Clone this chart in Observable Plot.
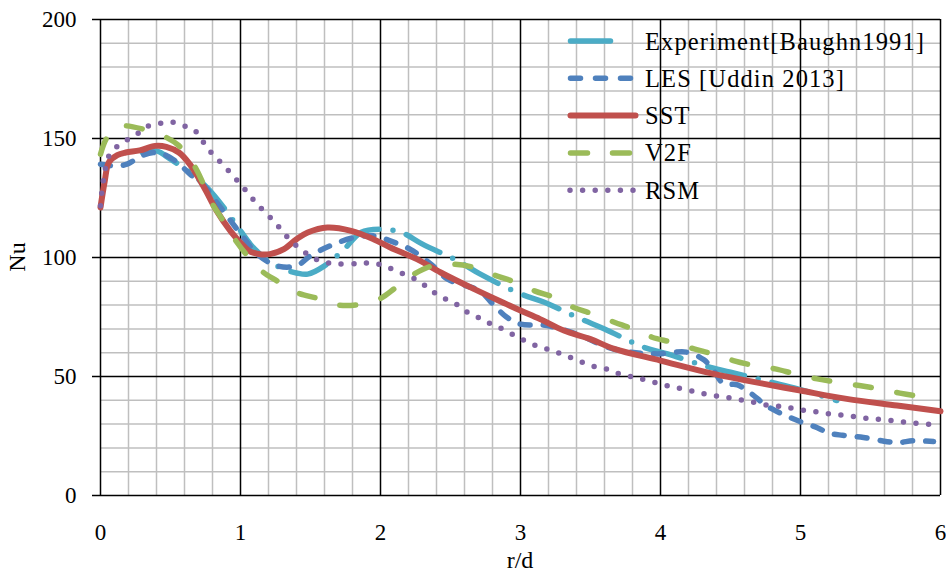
<!DOCTYPE html>
<html><head><meta charset="utf-8">
<script src="https://cdn.jsdelivr.net/npm/d3@7"></script>
<script src="https://cdn.jsdelivr.net/npm/@observablehq/plot@0.6"></script>
<style>body{margin:0;background:#fff}</style>
</head><body><div id="chart"></div>
<script>
// ---- data ----
const seriesNames = ["Experiment[Baughn1991]", "LES [Uddin 2013]", "SST", "V2F", "RSM"];
const seriesColors = ["#4BACC6", "#4F81BD", "#C0504D", "#9BBB59", "#8064A2"];

const expR  = [0.30,0.40,0.50,0.64,0.76,0.88,1.00,1.07,1.12,1.20,1.31,1.40,1.48,1.60,1.73,1.86,2.00,2.15,2.30,2.55,2.71,3.00,3.17,3.43,3.60,3.88,4.05,4.31,4.50,4.79,4.98,5.26];
const expNu = [144.0,144.8,141.3,135.7,129.4,121.0,111.2,105.6,102.5,98.5,95.1,93.5,93.0,96.5,102.8,110.5,111.9,110.5,105.6,98.6,93.1,84.7,81.2,74.2,70.0,62.3,59.5,54.6,51.8,47.6,44.8,39.9];

const lesR  = [0,0.10,0.19,0.29,0.38,0.45,0.55,0.64,0.74,0.83,0.93,1.02,1.12,1.26,1.40,1.50,1.64,1.81,1.95,2.07,2.21,2.36,2.48,2.62,2.71,2.81,2.90,3.00,3.19,3.43,3.62,3.79,3.98,4.19,4.31,4.38,4.45,4.55,4.65,4.75,4.86,5.00,5.12,5.20,5.30,5.45,5.62,5.71,5.80,5.95];
const lesNu = [139.2,138.5,139.2,142.7,144.1,143.4,139.9,135.0,130.1,123.1,115.4,108.4,101.4,96.5,96.5,100.7,104.9,108.4,109.1,107.0,103.5,97.2,90.9,88.0,86.0,80.0,75.0,72.0,71.4,67.2,62.3,60.2,59.5,60.2,57.0,52.5,47.0,46.5,42.7,38.0,34.5,31.0,28.5,26.3,25.3,24.4,22.6,22.3,23.0,22.7];

const sstR  = [0,0.03,0.06,0.12,0.18,0.28,0.39,0.47,0.56,0.64,0.74,0.83,0.93,1.02,1.07,1.15,1.21,1.31,1.40,1.48,1.62,1.79,1.95,2.07,2.26,2.43,2.67,2.90,3.00,3.14,3.31,3.50,3.67,4.00,4.38,4.74,5.00,5.33,5.69,6.00];
const sstNu = [121.0,132.0,140.0,143.0,144.1,145.0,146.9,146.5,144.1,139.0,129.4,119.6,111.0,105.0,102.5,101.3,101.4,103.5,107.7,110.5,112.6,111.2,107.7,104.2,99.3,93.7,86.7,80.4,77.7,74.1,69.3,65.7,61.6,56.7,51.1,46.9,44.1,40.6,37.8,35.4];

const v2fR  = [0,0.04,0.10,0.15,0.30,0.45,0.56,0.67,0.73,0.80,0.87,0.95,1.04,1.15,1.26,1.40,1.55,1.69,1.83,1.99,2.11,2.24,2.37,2.52,2.67,2.81,2.95,3.10,3.24,3.38,3.50,3.67,3.80,3.94,4.08,4.24,4.37,4.52,4.67,4.82,4.96,5.12,5.26,5.42,5.56,5.71,5.86,5.96];
const v2fNu = [143.4,149.7,154.0,155.3,154.0,151.0,147.0,138.5,131.5,122.4,116.0,108.4,101.4,94.4,90.2,85.3,82.8,80.1,80.1,82.5,87.4,93.0,96.5,97.2,95.8,92.7,89.9,86.0,83.2,79.0,76.6,72.8,70.0,66.5,64.4,61.6,59.5,56.7,54.6,53.2,51.1,49.0,47.6,46.2,44.8,43.0,41.6,41.0];

const rsmR  = [0,0.02,0.06,0.11,0.18,0.26,0.33,0.42,0.50,0.58,0.67,0.77,0.89,1.01,1.12,1.24,1.36,1.50,1.57,1.67,1.83,1.93,2.02,2.10,2.18,2.26,2.33,2.40,2.48,2.56,2.63,2.71,2.79,2.87,2.95,3.02,3.11,3.19,3.27,3.36,3.44,3.52,3.61,3.69,3.78,3.86,3.95,4.04,4.12,4.21,4.29,4.38,4.47,4.56,4.64,4.73,4.82,4.90,4.99,5.08,5.17,5.26,5.35,5.44,5.52,5.61,5.70,5.78,5.87,5.96];
const rsmNu = [121.7,132.2,142.7,146.2,149.0,151.8,154.9,156.3,157.0,155.6,153.5,145.5,138.0,130.1,122.4,115.1,107.0,100.5,98.6,97.4,97.4,97.7,96.6,94.7,92.7,90.6,87.7,84.6,82.1,79.7,76.6,74.5,72.0,70.0,67.5,65.4,63.0,61.5,59.9,57.9,56.0,54.3,53.2,51.4,50.1,49.0,47.6,46.2,45.2,44.1,43.0,42.0,41.3,40.3,39.5,38.2,37.7,37.1,36.0,35.4,34.6,34.0,33.5,32.6,32.2,31.8,31.1,30.7,30.1,29.8];

const xTicks = [0,1,2,3,4,5,6];
const yTicks = [0,50,100,150,200];
const xMinorTicks = [0.2,0.4,0.6,0.8,1.2,1.4,1.6,1.8,2.2,2.4,2.6,2.8,3.2,3.4,3.6,3.8,4.2,4.4,4.6,4.8,5.2,5.4,5.6,5.8];
const yMinorTicks = [10,20,30,40,60,70,80,90,110,120,130,140,160,170,180,190];
const xLabel = "r/d";
const yLabel = "Nu";

// ---- build ----
const seriesR = [expR, lesR, sstR, v2fR, rsmR];
const seriesNu = [expNu, lesNu, sstNu, v2fNu, rsmNu];
const dashes = ["38 14 0 14", "10 13", null, "16 26", "0 12.6"];
const widths = [5.5, 5.5, 6, 5.5, 5.5];

const lineMarks = seriesNames.map((name, i) => {
  const rows = seriesR[i].map((r, j) => ({series: name, r, nu: seriesNu[i][j]}));
  const opts = {x: "r", y: "nu", stroke: seriesColors[i], strokeWidth: widths[i],
    strokeLinecap: "round", strokeLinejoin: "round", curve: "catmull-rom"};
  if (dashes[i]) opts.strokeDasharray = dashes[i];
  return Plot.line(rows, opts);
});

const chart = Plot.plot({
  width: 946, height: 574,
  marginLeft: 100, marginRight: 6, marginTop: 19, marginBottom: 79,
  x: {domain: [0, 6]},
  y: {domain: [0, 200]},
  style: {fontFamily: "'Liberation Serif', serif", fontSize: "23px", background: "white", color: "black", overflow: "visible"},
  marks: [
    Plot.ruleX(xMinorTicks, {stroke: "#bfbfbf", strokeWidth: 1.5}),
    Plot.ruleY(yMinorTicks, {stroke: "#bfbfbf", strokeWidth: 1.5}),
    Plot.ruleX(xTicks, {stroke: "#000", strokeWidth: 1.5}),
    Plot.ruleY(yTicks, {stroke: "#000", strokeWidth: 1.5}),
    Plot.axisX({ticks: xTicks, tickSize: 0, tickPadding: 28, label: null, tickFormat: d => String(d)}),
    Plot.axisY({ticks: yTicks, tickSize: 8, tickPadding: 16, label: null, strokeWidth: 1.5, tickFormat: d => String(d)}),
    ...lineMarks
  ]
});
document.getElementById("chart").appendChild(chart);

// ---- axis titles & legend ----
const svg = d3.select(chart);
svg.append("text").attr("x", 520).attr("y", 568).attr("text-anchor", "middle")
  .attr("font-family", "'Liberation Serif', serif").attr("font-size", 24).text(xLabel);
svg.append("text").attr("transform", "translate(25,257) rotate(-90)").attr("text-anchor", "middle")
  .attr("font-family", "'Liberation Serif', serif").attr("font-size", 24).text(yLabel);

const legendPaths = [
  {x1: 570.5, x2: 637, dash: "40 26.5 0 100"},
  {x1: 570.5, x2: 630.5, dash: "10 15"},
  {x1: 570.5, x2: 635.5, dash: null},
  {x1: 570.5, x2: 630.5, dash: "17 25"},
  {x1: 570, x2: 634, dash: "0 12.6"}
];
const lg = svg.append("g");
seriesNames.forEach((name, i) => {
  const y = 41 + i * 37.3;
  const p = legendPaths[i];
  const ln = lg.append("line").attr("x1", p.x1).attr("x2", p.x2).attr("y1", y).attr("y2", y)
    .attr("stroke", seriesColors[i]).attr("stroke-width", widths[i]).attr("stroke-linecap", "round");
  if (p.dash) ln.attr("stroke-dasharray", p.dash);
  lg.append("text").attr("x", 645).attr("y", y).attr("dy", "0.35em").attr("text-anchor", "start")
    .attr("font-family", "'Liberation Serif', serif").attr("font-size", 24.5)
    .attr("letter-spacing", 1.1).text(name);
});
</script>
</body></html>
